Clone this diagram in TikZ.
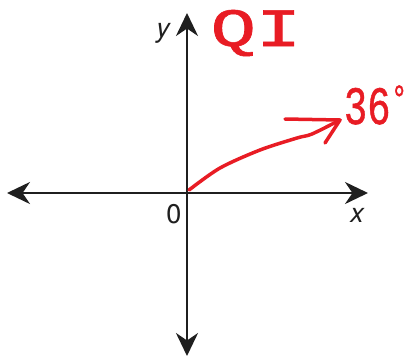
\documentclass[tikz,border=0pt]{standalone}
\usepackage{fontspec}
\setmainfont{TeX Gyre Heros}
\newfontfamily\handfont[FakeBold=1]{Liberation Mono}
\usetikzlibrary{arrows.meta}
\definecolor{inkred}{RGB}{232,28,36}

\begin{document}
\begin{tikzpicture}[x=1pt, y=-1pt,
    axis/.style={line width=2.6pt, black!88, -{Stealth[length=23pt, width=22pt]}},
    ink/.style={inkred, line width=3.5pt, line cap=round, line join=round},
    lab/.style={font=\fontsize{27}{30}\selectfont, inner sep=0pt, anchor=base, black!88},
    hand/.style={font=\handfont\fontsize{54}{56}\selectfont, text=inkred, inner sep=0pt}]
  \useasboundingbox (0,0) rectangle (409,360);

  % ---- axes ----
  \coordinate (O) at (187,193);
  \coordinate (xl) at (7,193);
  \coordinate (xr) at (368,193);
  \coordinate (yt) at (187,13);
  \coordinate (yb) at (187,356);
  \foreach \e in {xl, xr, yt, yb} {
    \draw[axis] (O) -- (\e);
  }
  \node[lab] (ylab) at (163,37) {\itshape y};
  \node[lab] (olab) at (174,223) {0};
  \node[lab] (xlab) at (357,222) {\itshape x};

  % ---- angle arrow ----
  \coordinate (start) at (189,190);
  \coordinate (tip) at (340,120);
  \draw[ink] plot[smooth] coordinates {(start) (220,168) (260,150) (297,138) (312,134) (tip)};
  \draw[ink] (285,119) -- (tip) -- (325,143);

  % ---- handwritten notes ----
  \node[hand, anchor=base, xscale=1.4] (quad) at (256,46) {QI};
  \node[hand, anchor=base east, xscale=0.72] (angle) at (408,124)
    {36\raisebox{12pt}{\fontsize{40}{40}\selectfont °}};
\end{tikzpicture}
\end{document}
